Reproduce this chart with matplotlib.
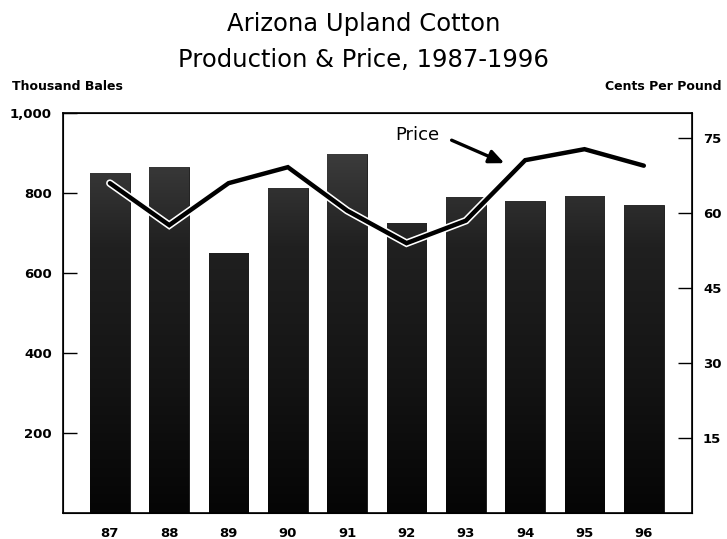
import numpy as np
import matplotlib
matplotlib.use("Agg")
import matplotlib.pyplot as plt
import matplotlib.patheffects as pe
from matplotlib.ticker import FuncFormatter

# data
years = ["87", "88", "89", "90", "91", "92", "93", "94", "95", "96"]
production = [850, 865, 650, 812, 897, 725, 790, 780, 792, 770]   # thousand bales
price = [66.0, 57.6, 66.0, 69.2, 60.5, 54.0, 58.5, 70.6, 72.8, 69.5]  # cents per pound
left_ticks = [200, 400, 600, 800, 1000]
right_ticks = [15, 30, 45, 60, 75]

plt.rcParams['font.family'] = ['DejaVu Sans']

fig = plt.figure(figsize=(7.27, 5.39), dpi=100)
ax = fig.add_axes([0.0867, 0.048, 0.865, 0.742])
x = np.arange(len(years))

bars = ax.bar(x, production, width=0.67, color="#111111", edgecolor="#111111",
              linewidth=0.6, zorder=2)

# vertical dark gradient inside each bar (lighter gray toward the top)
grad = np.linspace(0, 1, 256).reshape(-1, 1)
cmap = matplotlib.colors.LinearSegmentedColormap.from_list(
    "g", ["#050505", "#141414", "#202020", "#484848"])
for b in bars:
    im = ax.imshow(grad, cmap=cmap, aspect="auto",
                   extent=[-0.79, 9.81, 0, 1000], origin="lower", zorder=2.5)
    im.set_clip_path(b)

ax.set_xlim(-0.79, 9.81)
ax.set_ylim(0, 1000)
ax.set_xticks(x)
ax.set_xticklabels(years, fontweight="bold", fontsize=9.5)
ax.tick_params(axis="x", length=0, pad=10)
ax.set_yticks(left_ticks)
ax.yaxis.set_major_formatter(FuncFormatter(lambda v, p: f"{int(v):,}"))
ax.tick_params(axis="y", direction="in", length=10, width=1, labelsize=9.5, pad=8)
for lab in ax.get_yticklabels():
    lab.set_fontweight("bold")
for s in ax.spines.values():
    s.set_linewidth(1.2)

ax2 = ax.twinx()
ax2.set_ylim(0, 80)
ax2.set_yticks(right_ticks)
ax2.tick_params(axis="y", direction="in", length=10, width=1, labelsize=9.5, pad=8)
for lab in ax2.get_yticklabels():
    lab.set_fontweight("bold")
ax2.plot(x, price, color="black", linewidth=3.2, solid_capstyle="round",
         solid_joinstyle="miter", zorder=3,
         path_effects=[pe.Stroke(linewidth=5.5, foreground="white"), pe.Normal()])

ax2.text(5.19, 75.6, "Price", fontsize=13, ha="center", va="center")
ax2.annotate("", xy=(6.65, 70.0), xytext=(5.76, 74.6),
             arrowprops=dict(arrowstyle="-|>,head_length=0.9,head_width=0.4",
                             color="black", lw=2.4, shrinkA=0, shrinkB=0))

fig.text(0.5, 0.955, "Arizona Upland Cotton", ha="center", va="center", fontsize=17.5)
fig.text(0.5, 0.889, "Production & Price, 1987-1996", ha="center", va="center", fontsize=17.5)
fig.text(0.016, 0.840, "Thousand Bales", ha="left", va="center", fontsize=9, fontweight="bold")
fig.text(0.993, 0.840, "Cents Per Pound", ha="right", va="center", fontsize=9, fontweight="bold")

fig.savefig("out.png", dpi=100)
